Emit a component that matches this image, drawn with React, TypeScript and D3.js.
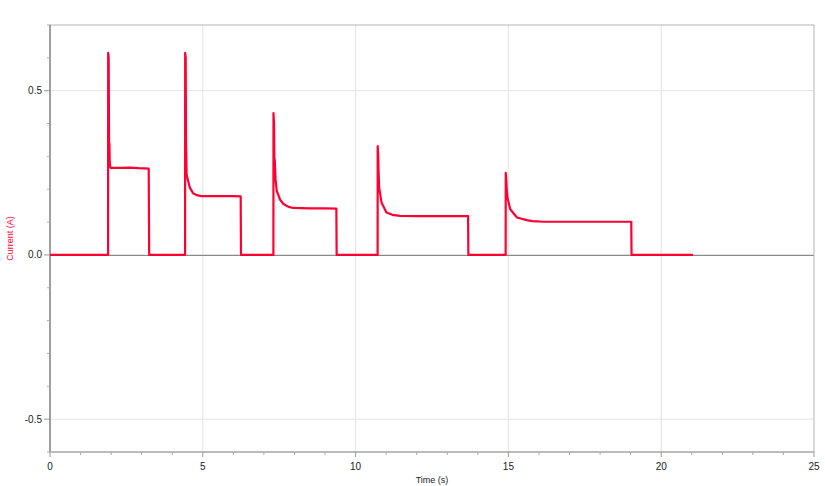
import React from "react";
import * as d3 from "d3";

const timeS = [
  0, 1.9, 1.903, 1.92, 1.935, 1.945, 1.955, 1.97, 2.0, 2.3, 2.6, 2.9, 3.23, 3.245,
  4.42, 4.423, 4.44, 4.45, 4.46, 4.47, 4.52, 4.58, 4.68, 4.8, 4.95, 5.5, 6.0, 6.24, 6.25,
  7.31, 7.313, 7.33, 7.345, 7.355, 7.38, 7.42, 7.53, 7.64, 7.79, 7.95, 8.5, 9.0, 9.37, 9.38,
  10.72, 10.723, 10.74, 10.75, 10.77, 10.85, 11.01, 11.2, 11.45, 12.0, 13.0, 13.68, 13.69,
  14.91, 14.913, 14.93, 14.945, 14.97, 15.06, 15.28, 15.6, 15.78, 16.15, 17.0, 18.0, 19.02, 19.03,
  21.04,
];
const currentA = [
  0, 0, 0.615, 0.6, 0.3, 0.34, 0.28, 0.268, 0.265, 0.265, 0.266, 0.264, 0.263, 0,
  0, 0.615, 0.6, 0.35, 0.3, 0.246, 0.225, 0.204, 0.188, 0.182, 0.179, 0.179, 0.179, 0.178, 0,
  0, 0.432, 0.4, 0.26, 0.29, 0.23, 0.195, 0.168, 0.155, 0.147, 0.143, 0.142, 0.142, 0.141, 0,
  0, 0.331, 0.3, 0.26, 0.205, 0.159, 0.129, 0.122, 0.119, 0.118, 0.118, 0.118, 0,
  0, 0.25, 0.23, 0.2, 0.174, 0.139, 0.114, 0.106, 0.103, 0.101, 0.101, 0.101, 0.101, 0,
  0,
];
const xTicks = [0, 5, 10, 15, 20, 25];
const yTicks = [0.5, 0.0, -0.5];

const W = 825;
const H = 486;
const M = { left: 50, right: 11, top: 25, bottom: 34 };

export default function App() {
  const x = d3.scaleLinear().domain([0, 25]).range([M.left, W - M.right]);
  const y = d3.scaleLinear().domain([-0.6, 0.7]).range([H - M.bottom, M.top]);
  const pts: [number, number][] = timeS.map((t, i) => [t, currentA[i]]);
  const line = d3
    .line<[number, number]>()
    .x((d) => x(d[0]))
    .y((d) => y(d[1]));
  const xMinor = d3.range(0, 25.01, 1).filter((v) => v % 5 !== 0);
  const yMinor = d3.range(-6, 8, 1).map((v) => v / 10).filter((v) => Math.abs((v * 10) % 5) > 0.01);
  const font = "'Liberation Sans', Arial, sans-serif";
  const x0 = M.left;
  const x1 = W - M.right;
  const y0 = H - M.bottom;
  const y1 = M.top;
  return (
    <svg
      width={W}
      height={H}
      style={{ position: "absolute", left: 0, top: 0, background: "#fff" }}
      fontFamily={font}
    >
      {/* grid */}
      {xTicks.filter((v) => v > 0 && v < 25).map((v) => (
        <line key={"gx" + v} x1={x(v)} x2={x(v)} y1={y1} y2={y0} stroke="#e3e3e3" strokeWidth={1} />
      ))}
      {yTicks.filter((v) => v !== 0).map((v) => (
        <line key={"gy" + v} x1={x0} x2={x1} y1={y(v)} y2={y(v)} stroke="#e3e3e3" strokeWidth={1} />
      ))}
      {/* zero line */}
      <line x1={x0} x2={x1} y1={y(0) + 0.5} y2={y(0) + 0.5} stroke="#8a8a8a" strokeWidth={1.3} />
      {/* frame */}
      <rect x={x0} y={y1} width={x1 - x0} height={y0 - y1} fill="none" stroke="#b5b5b5" strokeWidth={1} />
      <line x1={x0} x2={x0} y1={y1} y2={y0} stroke="#8a8a8a" strokeWidth={1.5} />
      <line x1={x0} x2={x1} y1={y0} y2={y0} stroke="#b0b0b0" strokeWidth={1.5} />
      {/* x ticks */}
      {xTicks.map((v) => (
        <g key={"xt" + v}>
          <line x1={x(v)} x2={x(v)} y1={y0} y2={y0 + 5} stroke="#999" />
          <text x={x(v)} y={y0 + 18} textAnchor="middle" fontSize={10} fill="#222">
            {v}
          </text>
        </g>
      ))}
      {xMinor.map((v) => (
        <line key={"xm" + v} x1={x(v)} x2={x(v)} y1={y0} y2={y0 + 3} stroke="#aaa" />
      ))}
      {/* y ticks */}
      {yTicks.map((v) => (
        <g key={"yt" + v}>
          <line x1={x0 - 6} x2={x0} y1={y(v)} y2={y(v)} stroke="#999" />
          <text x={x0 - 8} y={y(v) + 3.5} textAnchor="end" fontSize={10} fill="#222">
            {v.toFixed(1)}
          </text>
        </g>
      ))}
      {yMinor.map((v) => (
        <line key={"ym" + v} x1={x0 - 3} x2={x0} y1={y(v)} y2={y(v)} stroke="#aaa" />
      ))}
      {/* data */}
      <path d={line(pts) || ""} fill="none" stroke="#ff0033" strokeWidth={2.2} strokeLinejoin="round" />
      {/* labels */}
      <text x={(x0 + x1) / 2} y={H - 3} textAnchor="middle" fontSize={9} fill="#222">
        Time (s)
      </text>
      <text
        transform={`translate(13, ${(y0 + y1) / 2}) rotate(-90)`}
        textAnchor="middle"
        fontSize={9}
        fill="#ff0033"
      >
        Current (A)
      </text>
    </svg>
  );
}
